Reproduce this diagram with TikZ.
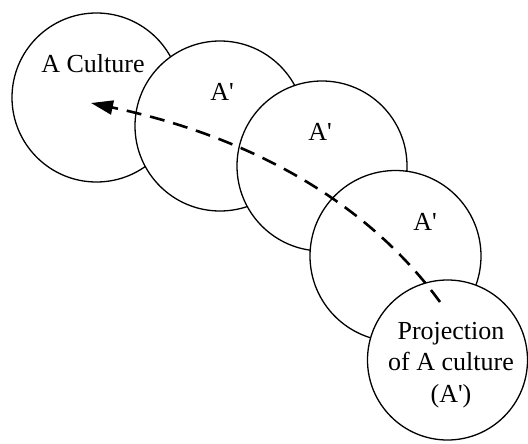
\documentclass[tikz,border=0pt]{standalone}
\usepackage{fontspec}
\setmainfont{Liberation Serif}
\usetikzlibrary{arrows.meta}
\newcommand{\apos}{\textquotesingle}
\begin{document}
\begin{tikzpicture}[x=1pt,y=-1pt,
  circ/.style={circle,draw=black,line width=1.3pt,fill=white,inner sep=0pt},
  lbl/.style={font=\fontsize{26}{31.5}\selectfont,inner sep=0pt},
  flow/.style={line width=2.6pt,dash pattern=on 15pt off 9pt,
    -{Triangle[length=22pt,width=14pt]}}]
\useasboundingbox (0,0) rectangle (528,444);
\node[circ,minimum size=169pt] (c1) at (96.5,97.5) {};
\node[circ,minimum size=170pt] (c2) at (220,126) {};
\node[circ,minimum size=170pt] (c3) at (322,166) {};
\node[circ,minimum size=171pt] (c4) at (395.5,256) {};
\node[circ,minimum size=160pt] (c5) at (447.5,360) {};
\node[lbl,anchor=base] (t1) at (93,73) {A Culture};
\node[lbl,anchor=base] (t2) at (222,100) {A\apos};
\node[lbl,anchor=base] (t3) at (320,140) {A\apos};
\node[lbl,anchor=base] (t4) at (425,230) {A\apos};
\node[lbl,align=center] (t5) at (451,365) {Projection\\of A culture\\(A\apos)};
\coordinate (s) at (440,302);
\coordinate (e) at (91,103);
\draw[flow] (s) .. controls (368,203) and (252,137) .. (e);
\end{tikzpicture}
\end{document}
